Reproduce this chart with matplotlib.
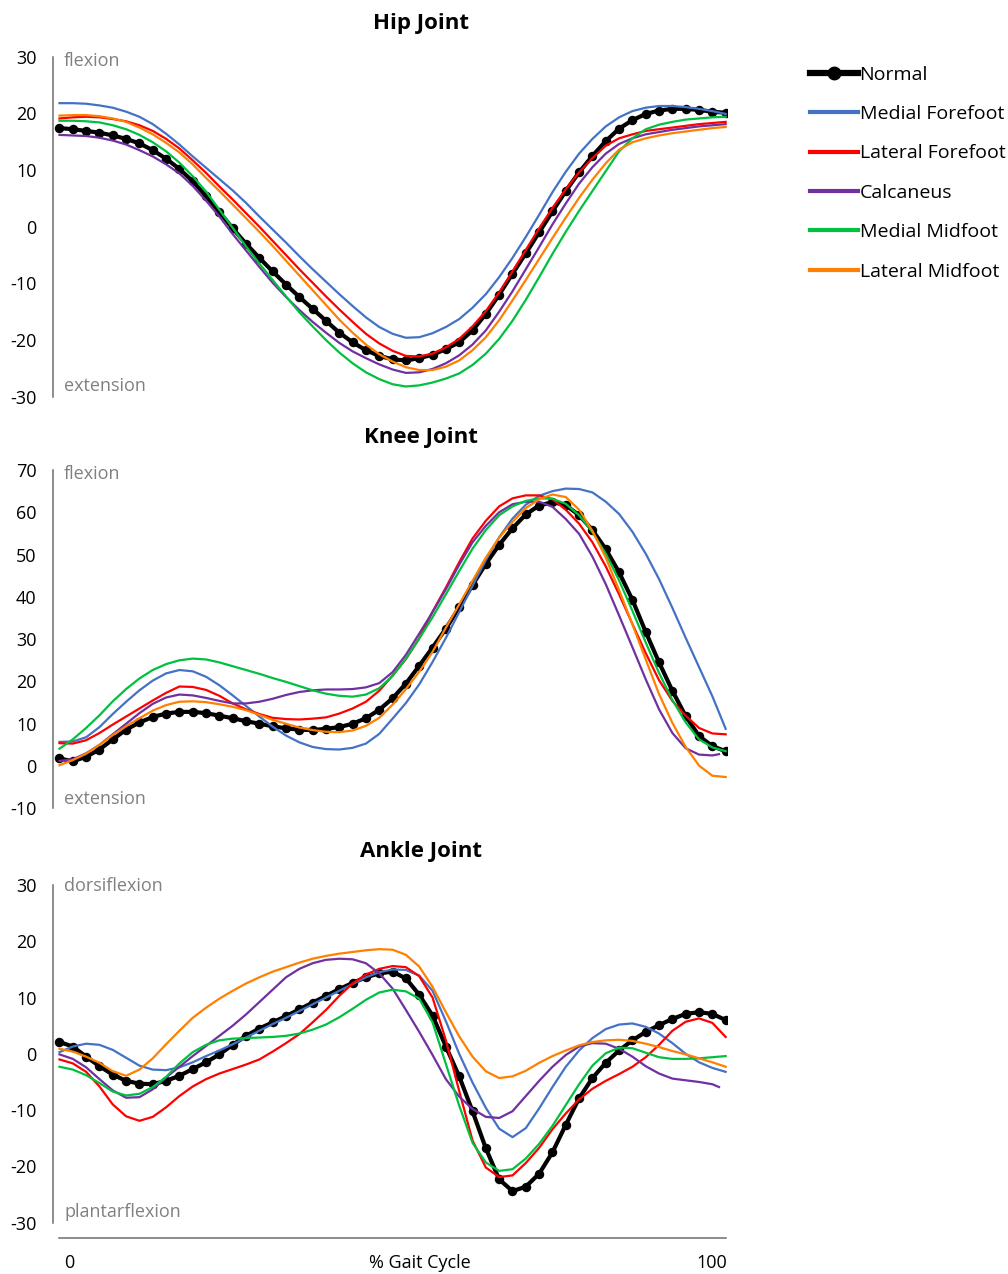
import matplotlib
matplotlib.use('Agg')
import matplotlib.pyplot as plt
from matplotlib.lines import Line2D

plt.rcParams['font.family'] = ['Open Sans', 'DejaVu Sans']
plt.rcParams['axes.unicode_minus'] = False

# x positions (% gait cycle)
x_all = list(range(0, 101, 2))
x_calc_short = list(range(0, 99, 2)) + [99]

names = ['Normal', 'Medial Forefoot', 'Lateral Forefoot', 'Calcaneus',
         'Medial Midfoot', 'Lateral Midfoot']
colors = ['black', '#4472C4', '#FF0000', '#7030A0', '#00C040', '#FF8000']

# ---- hip joint ----
hip_normal = [17.4, 17.2, 16.9, 16.6, 16.1, 15.5, 14.7, 13.5, 12.0, 10.2, 8.0, 5.4, 2.6,
              -0.3, -3.0, -5.5, -7.9, -10.2, -12.4, -14.5, -16.6, -18.7, -20.4, -21.8,
              -22.8, -23.4, -23.6, -23.2, -22.6, -21.6, -20.4, -18.3, -15.4, -12.0, -8.3,
              -4.7, -1.0, 2.7, 6.3, 9.6, 12.5, 15.1, 17.3, 18.8, 19.9, 20.5, 20.8, 20.8,
              20.6, 20.3, 20.1]
hip_med_fore = [21.8, 21.8, 21.7, 21.4, 21.0, 20.3, 19.4, 18.1, 16.4, 14.5, 12.4, 10.4, 8.4,
                6.4, 4.2, 1.8, -0.5, -2.8, -5.2, -7.5, -9.7, -11.9, -14.0, -16.0, -17.7,
                -18.9, -19.6, -19.5, -18.8, -17.7, -16.3, -14.3, -11.9, -8.9, -5.5, -1.8,
                2.1, 6.1, 9.7, 12.9, 15.5, 17.7, 19.3, 20.4, 21.0, 21.3, 21.3, 21.1, 20.8,
                20.4, 19.9]
hip_lat_fore = [19.1, 19.3, 19.4, 19.3, 19.0, 18.6, 17.9, 16.9, 15.5, 13.8, 11.7, 9.5, 7.1,
                4.8, 2.4, 0.0, -2.5, -5.0, -7.5, -9.9, -12.3, -14.6, -16.8, -18.9, -20.6,
                -21.9, -22.8, -22.9, -22.4, -21.3, -19.8, -17.6, -14.9, -11.6, -7.9, -4.1,
                -0.3, 3.3, 6.6, 9.6, 12.1, 14.3, 15.6, 16.3, 16.9, 17.2, 17.5, 17.8, 18.1,
                18.3, 18.5]
hip_calc = [16.2, 16.1, 16.0, 15.7, 15.2, 14.5, 13.5, 12.4, 11.0, 9.4, 7.2, 4.6, 1.8, -1.3,
            -4.2, -7.1, -9.9, -12.4, -14.7, -16.8, -18.7, -20.5, -22.0, -23.2, -24.3, -25.2,
            -25.8, -25.7, -25.1, -24.1, -22.7, -20.8, -18.3, -15.0, -11.4, -7.5, -3.6, 0.4,
            4.1, 7.6, 10.5, 12.9, 14.6, 15.6, 16.3, 16.7, 17.1, 17.4, 17.7, 17.9, 18.1]
hip_med_mid = [18.7, 18.7, 18.6, 18.4, 17.9, 17.2, 16.2, 14.9, 13.3, 11.3, 8.9, 6.2, 3.0,
               -0.2, -3.5, -6.5, -9.4, -12.3, -15.1, -17.6, -20.0, -22.2, -24.1, -25.7,
               -26.9, -27.8, -28.2, -28.0, -27.5, -26.8, -25.9, -24.4, -22.4, -19.8, -16.6,
               -12.9, -8.9, -4.8, -0.9, 2.8, 6.3, 9.8, 13.3, 15.6, 17.2, 18.0, 18.5, 18.9,
               19.1, 19.3, 19.4]
hip_lat_mid = [19.6, 19.7, 19.7, 19.5, 19.1, 18.5, 17.5, 16.3, 14.8, 13.1, 11.0, 8.6, 6.3,
               3.9, 1.5, -0.9, -3.4, -6.0, -8.6, -11.2, -13.8, -16.4, -18.7, -20.8, -22.5,
               -23.8, -24.8, -25.3, -25.3, -24.7, -23.6, -21.8, -19.5, -16.5, -13.0, -9.4,
               -5.7, -2.0, 1.6, 5.1, 8.3, 11.2, 13.6, 14.9, 15.6, 16.1, 16.5, 16.8, 17.1,
               17.4, 17.6]

# ---- knee joint ----
knee_normal = [1.8, 1.1, 2.2, 3.9, 6.3, 8.6, 10.3, 11.6, 12.4, 12.8, 12.8, 12.5, 11.9, 11.3,
               10.6, 10.0, 9.4, 8.9, 8.6, 8.5, 8.8, 9.2, 10.0, 11.3, 13.3, 16.0, 19.5, 23.7,
               28.0, 32.5, 37.5, 42.8, 47.8, 52.3, 56.2, 59.5, 61.6, 62.4, 61.7, 59.3, 55.8,
               51.3, 45.8, 39.3, 31.7, 24.5, 17.8, 11.8, 7.1, 4.7, 3.5]
knee_med_fore = [5.7, 5.8, 6.8, 9.2, 12.3, 15.2, 17.9, 20.2, 21.9, 22.7, 22.4, 21.1, 19.1,
                 16.7, 14.2, 11.7, 9.3, 7.2, 5.6, 4.5, 4.0, 3.9, 4.3, 5.3, 7.6, 11.2, 14.9,
                 19.3, 24.6, 30.3, 36.4, 42.6, 48.7, 54.1, 58.5, 61.8, 63.9, 65.0, 65.6, 65.5,
                 64.7, 62.5, 59.6, 55.4, 50.2, 44.2, 37.4, 30.3, 23.4, 16.5, 8.8]
knee_lat_fore = [5.4, 5.3, 6.1, 7.8, 9.8, 11.7, 13.6, 15.5, 17.3, 18.8, 18.7, 18.0, 16.6,
                 14.8, 13.4, 12.3, 11.4, 11.1, 11.0, 11.2, 11.5, 12.4, 13.6, 15.2, 17.8, 21.4,
                 25.3, 30.2, 36.5, 42.2, 48.2, 53.8, 58.0, 61.4, 63.3, 64.0, 64.0, 63.1, 60.6,
                 57.3, 52.9, 47.2, 40.6, 33.6, 26.7, 20.3, 15.4, 11.9, 9.0, 7.7, 7.5]
knee_calc = [1.2, 1.6, 3.0, 5.0, 7.5, 10.0, 12.5, 14.7, 16.2, 16.9, 16.7, 16.1, 15.4, 14.8,
             14.8, 15.2, 15.9, 16.8, 17.5, 17.9, 18.1, 18.1, 18.2, 18.6, 19.6, 22.2, 26.3,
             31.3, 36.4, 41.8, 47.6, 52.9, 56.8, 60.0, 61.9, 62.5, 62.5, 61.3, 58.4, 54.9,
             49.5, 43.0, 35.6, 28.1, 20.5, 13.4, 7.8, 4.2, 2.7, 2.5, 2.8]
knee_med_mid = [4.1, 6.3, 9.0, 12.0, 15.3, 18.2, 20.7, 22.7, 24.1, 25.0, 25.4, 25.2, 24.5,
                23.6, 22.7, 21.8, 20.8, 19.9, 18.9, 17.9, 17.1, 16.6, 16.4, 16.9, 18.4, 21.3,
                25.4, 30.1, 35.2, 40.6, 46.1, 51.4, 55.8, 59.3, 61.4, 62.7, 63.3, 63.2, 62.0,
                59.3, 55.3, 50.2, 43.9, 36.7, 29.2, 22.0, 15.6, 10.3, 6.3, 4.4, 3.5]
knee_lat_mid = [0.2, 1.4, 2.9, 5.0, 7.3, 9.4, 11.3, 13.1, 14.4, 15.2, 15.3, 15.1, 14.6, 14.0,
                13.2, 12.1, 10.9, 10.0, 9.1, 8.5, 8.1, 8.0, 8.4, 9.5, 11.4, 14.5, 18.2, 22.3,
                27.0, 32.7, 38.2, 43.8, 49.3, 54.0, 57.7, 61.0, 63.1, 64.2, 63.6, 60.6, 55.6,
                49.3, 41.6, 33.5, 25.2, 17.0, 10.2, 4.5, 0.1, -2.3, -2.6]

# ---- ankle joint ----
ankle_normal = [2.1, 1.3, -0.5, -2.2, -3.7, -4.8, -5.3, -5.4, -4.8, -3.9, -2.7, -1.5, -0.1, 1.6,
                3.2, 4.5, 5.6, 6.7, 7.9, 9.1, 10.3, 11.5, 12.6, 13.6, 14.3, 14.6, 13.4, 10.5,
                6.8, 1.3, -4.0, -10.2, -16.8, -22.3, -24.4, -23.6, -21.3, -17.5, -12.6, -7.9,
                -4.3, -1.6, 0.6, 2.4, 3.9, 5.1, 6.2, 7.1, 7.4, 7.1, 6.0]
ankle_med_fore = [0.3, 1.3, 1.8, 1.6, 0.7, -0.7, -2.1, -2.8, -2.9, -2.4, -1.5, -0.4, 0.6, 1.7,
                  2.9, 4.1, 5.3, 6.4, 7.6, 8.8, 10.0, 11.2, 12.4, 13.6, 14.5, 15.0, 14.9, 13.9,
                  11.2, 5.8, 0.0, -5.1, -9.6, -13.3, -14.8, -13.2, -9.7, -5.9, -2.3, 0.6, 2.8,
                  4.4, 5.2, 5.4, 4.8, 3.6, 1.9, 0.0, -1.5, -2.5, -3.2]
ankle_lat_fore = [-1.0, -1.7, -3.2, -5.8, -9.0, -11.1, -11.9, -11.2, -9.5, -7.5, -5.8, -4.5,
                  -3.5, -2.7, -1.9, -1.0, 0.4, 1.9, 3.5, 5.6, 7.8, 10.3, 12.5, 14.1, 15.1, 15.6,
                  15.4, 13.8, 10.0, 2.4, -6.6, -15.4, -20.2, -21.9, -21.6, -19.4, -16.7, -13.4,
                  -10.6, -8.1, -6.2, -4.8, -3.6, -2.3, -0.6, 1.6, 4.1, 5.7, 6.3, 5.5, 3.0]
ankle_calc = [-0.1, -0.9, -2.4, -4.5, -6.5, -7.8, -7.7, -6.3, -4.2, -2.3, -0.4, 1.4, 3.2, 5.0,
              7.0, 9.2, 11.4, 13.6, 15.1, 16.1, 16.7, 16.9, 16.8, 16.1, 14.3, 11.6, 7.8, 3.9,
              -0.2, -4.5, -7.6, -9.8, -11.2, -11.4, -10.2, -7.5, -4.8, -2.3, -0.2, 1.3, 1.9,
              1.8, 0.9, -0.5, -2.2, -3.5, -4.4, -4.7, -5.0, -5.4, -5.9]
ankle_med_mid = [-2.3, -2.8, -3.8, -5.2, -6.7, -7.4, -7.1, -5.9, -4.1, -1.7, 0.3, 1.6, 2.4,
                 2.7, 2.8, 2.9, 3.0, 3.2, 3.6, 4.3, 5.2, 6.5, 8.0, 9.6, 10.9, 11.4, 11.1, 9.8,
                 5.6, -1.8, -9.2, -15.8, -19.3, -20.8, -20.5, -18.6, -16.0, -12.8, -9.1, -5.4,
                 -2.1, 0.1, 1.1, 1.0, 0.2, -0.6, -0.9, -0.9, -0.8, -0.6, -0.4]
ankle_lat_mid = [0.9, 0.4, -0.5, -1.6, -3.1, -3.9, -2.8, -0.8, 1.7, 4.1, 6.4, 8.2, 9.8, 11.2,
                 12.5, 13.6, 14.6, 15.4, 16.2, 16.9, 17.4, 17.8, 18.1, 18.4, 18.6, 18.5, 17.6,
                 15.5, 11.9, 7.4, 3.1, -0.5, -3.1, -4.3, -4.0, -3.0, -1.6, -0.4, 0.6, 1.5, 2.1,
                 2.4, 2.5, 2.3, 1.8, 1.2, 0.5, -0.1, -0.8, -1.5, -2.3]

W, H = 1008, 1274
fig = plt.figure(figsize=(W / 100, H / 100), dpi=100)


def fx(px):
    return px / W


def fy(py):
    return 1 - py / H


panels = [
    dict(title='Hip Joint', top=56.7, bottom=396.7, ylim=(-30, 30), ticks=range(-30, 31, 10),
         up='flexion', down='extension', title_y=24, up_y=61, down_y=386,
         series=[hip_normal, hip_med_fore, hip_lat_fore, hip_calc, hip_med_mid, hip_lat_mid],
         calc_x=x_all),
    dict(title='Knee Joint', top=470, bottom=808.3, ylim=(-10, 70), ticks=range(-10, 71, 10),
         up='flexion', down='extension', title_y=437, up_y=474, down_y=799,
         series=[knee_normal, knee_med_fore, knee_lat_fore, knee_calc, knee_med_mid, knee_lat_mid],
         calc_x=x_calc_short),
    dict(title='Ankle Joint', top=885, bottom=1237.7, ylim=(-32.67, 30), ticks=range(-30, 31, 10),
         up='dorsiflexion', down='plantarflexion', title_y=851, up_y=886, down_y=1212,
         series=[ankle_normal, ankle_med_fore, ankle_lat_fore, ankle_calc, ankle_med_mid,
                 ankle_lat_mid],
         calc_x=x_calc_short),
]

left_px, right_px = 53.3, 727
for i, p in enumerate(panels):
    ax = fig.add_axes([fx(left_px), fy(p['bottom']), (right_px - left_px) / W,
                       (p['bottom'] - p['top']) / H])
    for k, (vals, col) in enumerate(zip(p['series'], colors)):
        if k == 0:
            ax.plot(x_all, vals, color=col, lw=3.0, marker='o', ms=5.8, zorder=2)
        else:
            xs = p['calc_x'] if k == 3 else x_all
            ax.plot(xs, vals, color=col, lw=1.6, zorder=3)
    ax.set_xlim(-0.93, 100.2)
    ax.set_ylim(*p['ylim'])
    ax.set_yticks(list(p['ticks']))
    ax.set_xticks([])
    ax.tick_params(axis='y', length=0, pad=12, labelsize=13, labelcolor='black')
    for s in ['top', 'right']:
        ax.spines[s].set_visible(False)
    ax.spines['left'].set_color('#6e6e6e')
    ax.spines['left'].set_linewidth(1.1)
    ax.spines['left'].set_bounds(p['ticks'][0], p['ticks'][-1])
    if i < 2:
        ax.spines['bottom'].set_visible(False)
    else:
        ax.spines['bottom'].set_color('#6e6e6e')
        ax.spines['bottom'].set_linewidth(1.1)
        ax.spines['bottom'].set_bounds(0, 100)
    ax.patch.set_visible(False)
    fig.text(fx(421), fy(p['title_y']), p['title'], ha='center', va='center',
             fontsize=16, fontweight='bold')
    fig.text(fx(64), fy(p['up_y']), p['up'], ha='left', va='center', fontsize=13,
             color='#808080')
    fig.text(fx(64), fy(p['down_y']), p['down'], ha='left', va='center', fontsize=13,
             color='#808080')

fig.text(fx(69), fy(1263), '0', ha='center', va='center', fontsize=13)
fig.text(fx(420), fy(1263), '% Gait Cycle', ha='center', va='center', fontsize=13)
fig.text(fx(712), fy(1263), '100', ha='center', va='center', fontsize=13)

# legend handles drawn a little thicker, as in the reference
handles = [Line2D([], [], color=colors[0], lw=4.5, marker='o', ms=9)]
handles += [Line2D([], [], color=c, lw=3.0) for c in colors[1:]]
fig.legend(handles=handles, labels=names, loc='upper left',
           bbox_to_anchor=(fx(810), fy(65.7)), frameon=False, fontsize=14,
           handlelength=2.45, handletextpad=0.1, labelspacing=1.1,
           borderpad=0, borderaxespad=0)

fig.savefig('out.png', dpi=100)
